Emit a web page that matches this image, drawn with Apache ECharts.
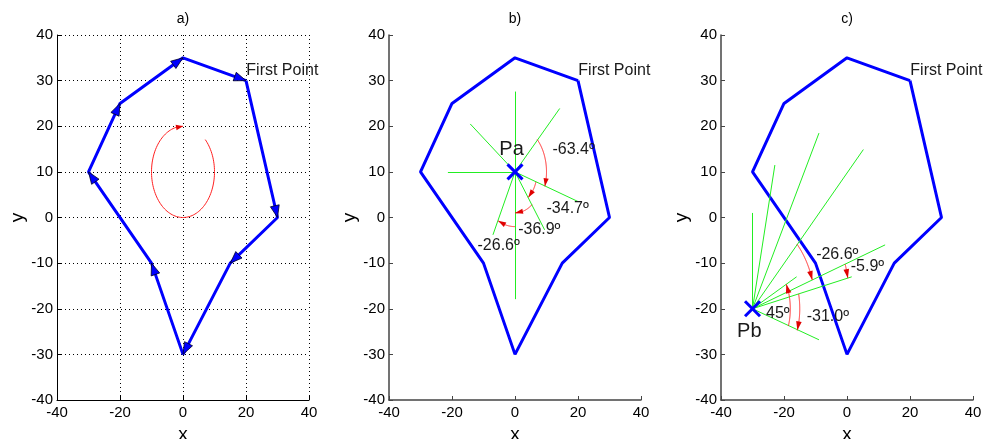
<!DOCTYPE html>
<html><head><meta charset="utf-8">
<script src="https://cdn.jsdelivr.net/npm/echarts@6/dist/echarts.min.js"></script>
<style>html,body{margin:0;padding:0;background:#fff}#c{width:983px;height:439px}</style>
</head><body><div id="c"></div>
<script>
// ---------- data ----------
const polygonX = [20, 30, 15, 0, -10, -30, -20, 0, 20];
const polygonY = [30, 0, -10, -30, -10, 10, 25, 35, 30];
const panelTitles = ['a)', 'b)', 'c)'];
const firstPointText = 'First Point';
const firstPointAnchor = [20.1, 32.2];
// panel a: rotation arc [cx, cy, r, startDeg, endDeg]
const arcsA = [[0, 10, 10, 45, -270]];
// panel b
const pointA = [0, 10];
const pointALabel = 'Pa';
const pointALabelPos = [-1.1, 14.8];
const raysBEnd = [[14.2, 23.9], [20, 3.5], [9.4, -2.7], [0, -17.9], [-7, -3.8], [-21.3, 10], [-14.2, 20.5], [0, 27.6]];
const arcsB = [[0, 10, 10, 45, -18.4], [0, 10, 7, -18.4, -53.1], [0, 10, 9, -53.1, -90], [0, 10, 12, -90, -116.6]];
const anglesB = ['-63.4º', '-34.7º', '-36.9º', '-26.6º'];
const anglePosB = [[11.9, 14.8], [10, 2], [1, -2.7], [-11.9, -6.2]];
// panel c
const pointB = [-30, -20];
const pointBLabel = 'Pb';
const pointBLabelPos = [-31, -25];
const raysCEnd = [[5.2, 14.9], [12.1, -6], [1.5, -13], [-8.9, -26.8], [-16, -13], [-30, 1], [-22.9, 11.5], [-8.9, 18.5]];
const arcsC = [[-30, -20, 20, 45, 18.4], [-30, -20, 31, 18.4, 12.5], [-30, -20, 15, 12.5, -18.4], [-30, -20, 12, -18.4, 26.6]];
const anglesC = ['-26.6º', '-5.9º', '-31.0º', '45º'];
const anglePosC = [[-9.8, -8.1], [1.2, -10.8], [-12.8, -21.7], [-25.7, -21]];

// ---------- rendering ----------
const FONT = '"Liberation Sans", Arial, Helvetica, sans-serif';
const chart = echarts.init(document.getElementById('c'));
const gridLefts = [57, 389, 721];

function arrowHead(tip, from, len, half) {
  const dx = tip[0] - from[0], dy = tip[1] - from[1];
  const d = Math.hypot(dx, dy) || 1, ux = dx / d, uy = dy / d;
  const bx = tip[0] - ux * len, by = tip[1] - uy * len;
  return [[tip[0], tip[1]], [bx - uy * half, by + ux * half], [bx + uy * half, by - ux * half]];
}

const polyPts = polygonX.map((x, i) => [x, polygonY[i]]);
const edges = [];
for (let i = 0; i < polyPts.length - 1; i++) edges.push([polyPts[i][0], polyPts[i][1], polyPts[i + 1][0], polyPts[i + 1][1]]);

function arcSeries(idx, arcs, len, half) {
  return {
    type: 'custom', xAxisIndex: idx, yAxisIndex: idx, silent: true, z: 4,
    encode: { x: 0, y: 1 }, data: arcs,
    renderItem: function (params, api) {
      const cx = api.value(0), cy = api.value(1), r = api.value(2), a0 = api.value(3), a1 = api.value(4);
      const n = 120, pts = [];
      for (let i = 0; i <= n; i++) {
        const t = (a0 + (a1 - a0) * i / n) * Math.PI / 180;
        pts.push(api.coord([cx + r * Math.cos(t), cy + r * Math.sin(t)]));
      }
      const tip = pts[n];
      let j = n - 1;
      while (j > 0 && Math.hypot(pts[j][0] - tip[0], pts[j][1] - tip[1]) < len) j--;
      return { type: 'group', children: [
        { type: 'polyline', shape: { points: pts }, style: { stroke: '#ff2020', lineWidth: 1, fill: null } },
        { type: 'polygon', shape: { points: arrowHead(tip, pts[j], len, half) }, style: { fill: '#e00000' } }
      ] };
    }
  };
}

function textSeries(idx, positions, texts, size, align) {
  return {
    type: 'custom', xAxisIndex: idx, yAxisIndex: idx, silent: true, z: 6,
    encode: { x: 0, y: 1 }, data: positions,
    renderItem: function (params, api) {
      const p = api.coord([api.value(0), api.value(1)]);
      return { type: 'text', x: p[0], y: p[1], style: { text: texts[params.dataIndex], font: size + 'px ' + FONT, fill: '#1a1a1a', align: align, verticalAlign: 'middle' } };
    }
  };
}

function markerSeries(idx, pt) {
  return {
    type: 'custom', xAxisIndex: idx, yAxisIndex: idx, silent: true, z: 7,
    encode: { x: 0, y: 1 }, data: [pt],
    renderItem: function (params, api) {
      const p = api.coord([api.value(0), api.value(1)]);
      const s = 7.5;
      return { type: 'group', children: [
        { type: 'line', shape: { x1: p[0] - s, y1: p[1] - s, x2: p[0] + s, y2: p[1] + s }, style: { stroke: '#0000ff', lineWidth: 3 } },
        { type: 'line', shape: { x1: p[0] - s, y1: p[1] + s, x2: p[0] + s, y2: p[1] - s }, style: { stroke: '#0000ff', lineWidth: 3 } }
      ] };
    }
  };
}

function raySeries(idx, p, ends) {
  return {
    type: 'lines', coordinateSystem: 'cartesian2d', xAxisIndex: idx, yAxisIndex: idx, silent: true, z: 3,
    data: ends.map(e => ({ coords: [p, e] })),
    lineStyle: { color: '#22ee22', width: 1, opacity: 1 }
  };
}

const grids = [], xAxes = [], yAxes = [], titles = [];
for (let i = 0; i < 3; i++) {
  const axisCol = i === 0 ? '#000' : '#444';
  grids.push({ left: gridLefts[i], top: 35, width: 252, height: 365, outerBoundsMode: 'none', containLabel: false });
  titles.push({ text: panelTitles[i], left: gridLefts[i] + 126, top: 12, textAlign: 'center', padding: 0,
    textStyle: { fontSize: 14, fontWeight: 'normal', color: '#000', fontFamily: FONT } });
  xAxes.push({ gridIndex: i, type: 'value', min: -40, max: 40, interval: 20, name: 'x', nameLocation: 'middle', nameGap: 21,
    nameTextStyle: { fontSize: 19, color: '#000', fontFamily: FONT },
    axisLine: { onZero: false, lineStyle: { color: axisCol, width: i === 0 ? 1 : 1.5 } },
    axisTick: { inside: true, length: 4, lineStyle: { color: axisCol } },
    axisLabel: { fontSize: 15, color: '#000', margin: 5, fontFamily: FONT },
    splitLine: { show: i === 0, showMinLine: true, showMaxLine: true, lineStyle: { type: [1, 3], color: '#000', width: 1 } } });
  yAxes.push({ gridIndex: i, type: 'value', min: -40, max: 40, interval: 10, name: 'y', nameLocation: 'middle', nameGap: 30,
    nameTextStyle: { fontSize: 19, color: '#000', fontFamily: FONT },
    axisLine: { onZero: false, lineStyle: { color: axisCol, width: i === 0 ? 1 : 1.5 } },
    axisTick: { inside: true, length: 4, lineStyle: { color: axisCol } },
    axisLabel: { fontSize: 15, color: '#000', margin: 4, fontFamily: FONT },
    splitLine: { show: i === 0, showMinLine: true, showMaxLine: true, lineStyle: { type: [1, 3], color: '#000', width: 1 } } });
}

const series = [];
for (let i = 0; i < 3; i++) {
  series.push({ type: 'line', xAxisIndex: i, yAxisIndex: i, data: polyPts, symbol: 'none', silent: true, z: 2,
    lineStyle: { color: '#0000ff', width: 3 } });
  series.push(textSeries(i, [firstPointAnchor], [firstPointText], 16, 'left'));
}
// panel a arrows on edges
series.push({
  type: 'custom', xAxisIndex: 0, yAxisIndex: 0, silent: true, z: 5, encode: { x: [0, 2], y: [1, 3] }, data: edges,
  renderItem: function (params, api) {
    const p1 = api.coord([api.value(0), api.value(1)]);
    const p2 = api.coord([api.value(2), api.value(3)]);
    return { type: 'polygon', shape: { points: arrowHead(p2, p1, 12, 4.5) }, style: { fill: '#0000ff', stroke: '#000022', lineWidth: 0.8 } };
  }
});
series.push(arcSeries(0, arcsA, 7, 2.8));
// panel b
series.push(raySeries(1, pointA, raysBEnd));
series.push(arcSeries(1, arcsB, 8, 2.6));
series.push(textSeries(1, anglePosB, anglesB, 16, 'left'));
series.push(markerSeries(1, pointA));
series.push(textSeries(1, [pointALabelPos], [pointALabel], 20, 'center'));
// panel c
series.push(raySeries(2, pointB, raysCEnd));
series.push(arcSeries(2, arcsC, 9, 2.8));
series.push(textSeries(2, anglePosC, anglesC, 16, 'left'));
series.push(markerSeries(2, pointB));
series.push(textSeries(2, [pointBLabelPos], [pointBLabel], 20, 'center'));

chart.setOption({ animation: false, backgroundColor: '#fff', title: titles, grid: grids, xAxis: xAxes, yAxis: yAxes, series: series });
</script></body></html>
